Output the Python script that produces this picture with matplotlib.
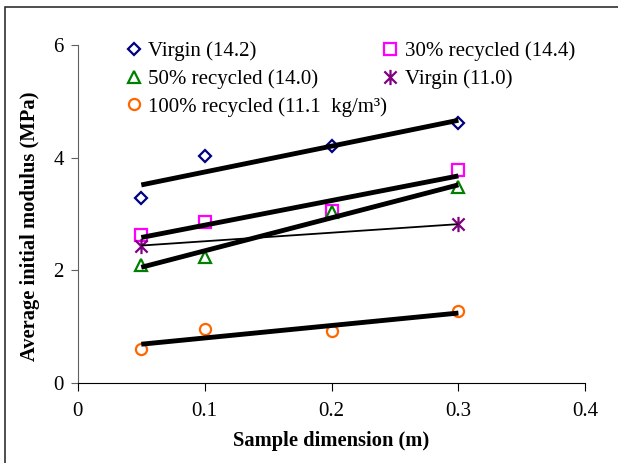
import numpy as np
import matplotlib.pyplot as plt
from matplotlib.path import Path
from matplotlib.patches import Rectangle

plt.rcParams['font.family'] = ['Liberation Serif', 'DejaVu Serif']

# sample dimension (m)
x4 = [0.05, 0.1, 0.2, 0.3]
x2 = [0.05, 0.3]

# average initial modulus (MPa)
virgin_142 = [3.29, 4.03, 4.20, 4.61]
rec30_144 = [2.62, 2.85, 3.05, 3.78]
rec50_140 = [2.10, 2.24, 3.03, 3.48]
virgin_110 = [2.44, 2.82]
rec100_111 = [0.60, 0.96, 0.92, 1.27]

labels = ['Virgin (14.2)', '30% recycled (14.4)', '50% recycled (14.0)',
          'Virgin (11.0)', '100% recycled (11.1  kg/m\u00b3)']

x_ticks = [0, 0.1, 0.2, 0.3, 0.4]
x_ticklabels = ['0', '0.1', '0.2', '0.3', '0.4']
y_ticks = [0, 2, 4, 6]

# excel-like asterisk: X with a vertical bar
star = Path([(-1, -1), (1, 1), (-1, 1), (1, -1), (0, -1.25), (0, 1.25)],
            [Path.MOVETO, Path.LINETO, Path.MOVETO, Path.LINETO,
             Path.MOVETO, Path.LINETO])

series = [
    (x4, virgin_142, 'D', '#000080', 6.5, 3.5),
    (x4, rec30_144, 's', '#FF00FF', 8, 3.5),
    (x4, rec50_140, '^', '#008000', 8, 3.5),
    (x2, virgin_110, star, '#800080', 11, 1.3),
    (x4, rec100_111, 'o', '#FF6600', 8, 3.5),
]

fig = plt.figure(figsize=(6.18, 4.63), dpi=100)
ax = fig.add_axes([0.126, 0.1728, 0.821, 0.73])

handles = []
for (x, y, m, c, ms, lw), lab in zip(series, labels):
    h, = ax.plot(x, y, linestyle='none', marker=m, markersize=ms,
                 markerfacecolor='none', markeredgecolor=c,
                 markeredgewidth=1.6, label=lab, zorder=3)
    handles.append(h)
    # linear trend line
    k, b = np.polyfit(x, y, 1)
    xs = np.array([min(x), max(x)])
    ax.plot(xs, k * xs + b, color='black', lw=lw, solid_capstyle='butt', zorder=4)

ax.set_xlim(0, 0.4)
ax.set_ylim(0, 6)
ax.set_xticks(x_ticks)
ax.set_xticklabels(x_ticklabels)
ax.set_yticks(y_ticks)
ax.tick_params(axis='x', direction='out', length=6, width=0.8, pad=8, labelsize=15)
ax.tick_params(axis='y', direction='out', length=5, width=0.8, pad=5, labelsize=15,
               color='#606060')
for s in ['top', 'right']:
    ax.spines[s].set_visible(False)
ax.spines['left'].set_color('#606060')
ax.spines['left'].set_linewidth(0.8)
ax.spines['bottom'].set_linewidth(0.8)

ax.set_xlabel('Sample dimension (m)', fontsize=14.8, fontweight='bold', labelpad=7)
ax.set_ylabel('Average initial modulus (MPa)', fontsize=14.8, fontweight='bold')
ax.yaxis.set_label_coords(-0.074, 0.464)

# row-major order for two columns
order = [0, 2, 4, 1, 3]
ax.legend([handles[i] for i in order], [labels[i] for i in order], ncol=2,
          loc='upper left', bbox_to_anchor=(0.077, 1.035), frameon=False,
          fontsize=15, handlelength=0.8, handletextpad=0.3,
          columnspacing=-0.25, labelspacing=0.38, borderaxespad=0)

# outer frame
fig.patches.append(Rectangle((5 / 618, -0.1), 1.2, 1.1 - 7 / 463,
                             transform=fig.transFigure, fill=False,
                             edgecolor='#303030', lw=1.2))

fig.savefig('out.png', dpi=100)
